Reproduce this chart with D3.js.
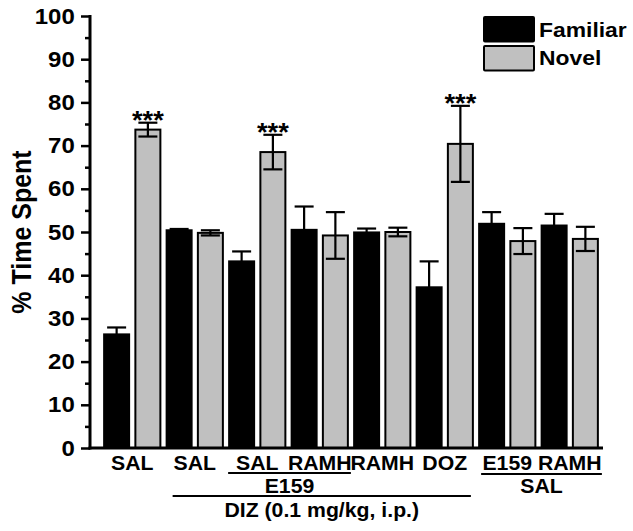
<!DOCTYPE html>
<html>
<head>
<meta charset="utf-8">
<script src="https://cdn.jsdelivr.net/npm/d3@7"></script>
<style>
  html, body { margin: 0; padding: 0; background: #fff; }
  svg { display: block; font-family: "Liberation Sans", Arial, sans-serif; font-weight: bold; }
</style>
</head>
<body>
<svg id="chart" width="633" height="531"></svg>
<script>
// ---- data ----
const groups = ["SAL", "SAL", "SAL", "RAMH", "RAMH", "DOZ", "E159", "RAMH"];
const series = ["Familiar", "Novel"];
const familiar = [26.3, 50.4, 43.2, 50.5, 49.9, 37.2, 51.9, 51.5];
const familiarErr = [1.6, 0.3, 2.3, 5.4, 0.9, 6.0, 2.7, 2.7];
const novel = [73.7, 49.8, 68.5, 49.2, 50.0, 70.4, 47.9, 48.4];
const novelErr = [1.6, 0.6, 4.0, 5.4, 1.0, 8.8, 3.0, 2.8];
const significance = ["***", "", "***", "", "", "***", "", ""];
const yTicks = [0, 10, 20, 30, 40, 50, 60, 70, 80, 90, 100];
const yMinorTicks = [5, 15, 25, 35, 45, 55, 65, 75, 85, 95];

const colors = { Familiar: "#000000", Novel: "#c0c0c0" };
const SX = 1.09; // horizontal text stretch seen in the reference

const svg = d3.select("#chart");
const axisX = 90, axisRight = 603;
const y = d3.scaleLinear().domain([0, 100]).range([448, 16]);
const gx = d3.scaleBand().domain(d3.range(groups.length)).range([101, 601]).paddingInner(0).paddingOuter(0);
const sx = d3.scaleBand().domain(series).range([0, gx.bandwidth()]).paddingInner(0.136).paddingOuter(0.068);
const bw = sx.bandwidth();

function stretchedText(parent, x, yy, str, size, anchor) {
  return parent.append("text")
    .attr("transform", `translate(${x},${yy}) scale(${SX},1)`)
    .attr("text-anchor", anchor || "middle")
    .attr("font-size", size)
    .text(str);
}

const rows = [];
groups.forEach((g, i) => {
  rows.push({ i, s: "Familiar", v: familiar[i], e: familiarErr[i], sig: "" });
  rows.push({ i, s: "Novel", v: novel[i], e: novelErr[i], sig: significance[i] });
});
const bx = d => gx(d.i) + sx(d.s);

// upper error bars
const eb = svg.append("g").attr("stroke", "#000").attr("stroke-width", 2.2).attr("fill", "none");
rows.forEach(d => {
  const cx = bx(d) + bw / 2;
  eb.append("line").attr("x1", cx).attr("x2", cx).attr("y1", y(d.v)).attr("y2", y(d.v + d.e));
  eb.append("line").attr("x1", cx - 9.5).attr("x2", cx + 9.5).attr("y1", y(d.v + d.e)).attr("y2", y(d.v + d.e));
});

// bars
svg.append("g").selectAll("rect").data(rows).join("rect")
  .attr("x", d => bx(d) + 1)
  .attr("y", d => y(d.v))
  .attr("width", bw - 2)
  .attr("height", d => y(0) - y(d.v))
  .attr("fill", d => colors[d.s])
  .attr("stroke", "#000")
  .attr("stroke-width", 2);

// lower error bars (visible on grey bars)
const eb2 = svg.append("g").attr("stroke", "#000").attr("stroke-width", 2.2).attr("fill", "none");
rows.forEach(d => {
  const cx = bx(d) + bw / 2;
  eb2.append("line").attr("x1", cx).attr("x2", cx).attr("y1", y(d.v - d.e)).attr("y2", y(d.v));
  eb2.append("line").attr("x1", cx - 9.5).attr("x2", cx + 9.5).attr("y1", y(d.v - d.e)).attr("y2", y(d.v - d.e));
});

// significance stars
const sg = svg.append("g");
rows.filter(d => d.sig).forEach(d => {
  stretchedText(sg, bx(d) + bw / 2, y(d.v + d.e) + 6, d.sig, 25);
});

// y axis
const yAxis = d3.axisLeft(y).tickValues(yTicks).tickSize(9).tickPadding(5).tickFormat(d3.format("d"));
const ya = svg.append("g").attr("transform", `translate(${axisX},0)`).call(yAxis);
ya.select(".domain").remove();
ya.selectAll(".tick line").attr("stroke-width", 2.5);
ya.selectAll(".tick text").attr("font-size", 22).attr("font-weight", "bold").attr("fill", "#000")
  .attr("font-family", '"Liberation Sans", Arial, sans-serif')
  .attr("transform", `scale(${SX},1)`);
const yMinor = d3.axisLeft(y).tickValues(yMinorTicks).tickSize(5).tickFormat("");
const ym = svg.append("g").attr("transform", `translate(${axisX},0)`).call(yMinor);
ym.select(".domain").remove();
ym.selectAll(".tick line").attr("stroke-width", 2.5);

svg.append("line").attr("x1", axisX).attr("x2", axisX).attr("y1", y(100) - 1).attr("y2", y(0) + 1.5)
  .attr("stroke", "#000").attr("stroke-width", 3);
svg.append("line").attr("x1", axisX - 1.5).attr("x2", axisRight).attr("y1", y(0)).attr("y2", y(0))
  .attr("stroke", "#000").attr("stroke-width", 3);

// y title
svg.append("text").attr("transform", `translate(31,${y(50)}) rotate(-90) scale(1,${SX})`)
  .attr("text-anchor", "middle").attr("font-size", 25).text("% Time Spent");

// x labels
const xl = svg.append("g");
groups.forEach((g, i) => stretchedText(xl, gx(i) + gx.bandwidth() / 2, 469.5, g, 19.5));

// group annotations
const barX = (i, s) => gx(i) + sx(s);
const ann = svg.append("g");
function bracket(x1, x2, ly, label, ty) {
  ann.append("line").attr("x1", x1).attr("x2", x2).attr("y1", ly).attr("y2", ly)
    .attr("stroke", "#000").attr("stroke-width", 2);
  stretchedText(ann, (x1 + x2) / 2, ty, label, 19.5);
}
bracket(barX(2, "Familiar"), barX(3, "Novel") + bw + 2, 473, "E159", 493);
bracket(barX(1, "Familiar") + 7, barX(5, "Novel") + bw - 3, 496, "DIZ (0.1 mg/kg, i.p.)", 517);
bracket(barX(6, "Familiar") + 3, barX(7, "Novel") + bw + 3, 474, "SAL", 493);

// legend
const lg = svg.append("g");
series.forEach((s, k) => {
  lg.append("rect").attr("x", 484).attr("y", 17 + k * 29).attr("width", 50).attr("height", 24.5)
    .attr("fill", colors[s]).attr("stroke", "#000").attr("stroke-width", 2).attr("rx", 1);
  stretchedText(lg, 539, 37.3 + k * 28, s, 21, "start");
});
</script>
</body>
</html>
